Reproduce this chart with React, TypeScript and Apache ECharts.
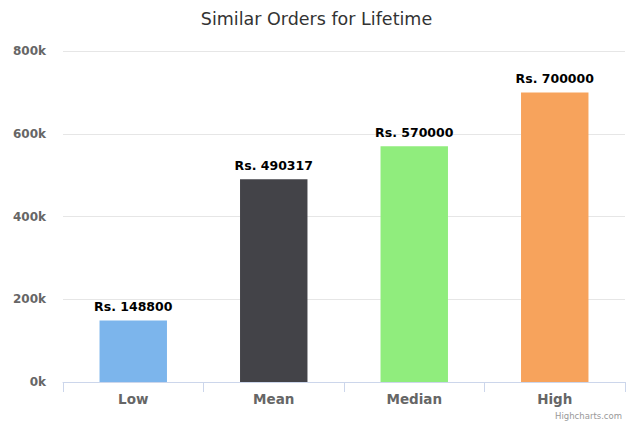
import React, { useEffect, useRef } from "react";
import * as echarts from "echarts";

const categories = ["Low", "Mean", "Median", "High"];
const values = [148800, 490317, 570000, 700000];
const colors = ["#7cb5ec", "#434348", "#90ed7d", "#f7a35c"];
const yTicks = [0, 200000, 400000, 600000, 800000];

export default function App() {
  const ref = useRef<HTMLDivElement>(null);
  useEffect(() => {
    const chart = echarts.init(ref.current!, null, { renderer: "svg" });
    const font = "'DejaVu Sans', Helvetica, Arial, sans-serif";
    chart.setOption({
      animation: false,
      textStyle: { fontFamily: font },
      title: {
        text: "Similar Orders for Lifetime",
        left: "center",
        top: 5,
        textStyle: { fontSize: 17.5, fontWeight: "normal", color: "#333333", fontFamily: font },
      },
      graphic: [
        {
          type: "text",
          right: 11,
          bottom: 5,
          style: { text: "Highcharts.com", fontSize: 8.5, fill: "#999999", fontFamily: font },
        },
      ],
      grid: { left: 63, right: 8, top: 51, bottom: 43, containLabel: false },
      xAxis: {
        type: "category",
        data: categories,
        axisLine: { lineStyle: { color: "#ccd6eb" } },
        axisTick: { show: true, length: 10, lineStyle: { color: "#ccd6eb" } },
        axisLabel: { color: "#666666", fontSize: 13.5, fontWeight: "bold", margin: 10, fontFamily: font },
      },
      yAxis: {
        type: "value",
        min: yTicks[0],
        max: yTicks[yTicks.length - 1],
        interval: 200000,
        axisLine: { show: false },
        axisTick: { show: false },
        splitLine: { lineStyle: { color: "#e6e6e6" } },
        axisLabel: {
          color: "#666666",
          fontSize: 12,
          fontWeight: "bold",
          margin: 17,
          fontFamily: font,
          formatter: (v: number) => v / 1000 + "k",
        },
      },
      series: [
        {
          type: "bar",
          data: values.map((v, i) => ({ value: v, itemStyle: { color: colors[i] } })),
          barWidth: "48%",
          label: {
            show: true,
            position: "top",
            distance: 7,
            color: "#000000",
            fontSize: 12.5,
            fontWeight: "bold",
            fontFamily: font,
            formatter: (p: any) => "Rs. " + p.value,
          },
        },
      ],
    });
    return () => chart.dispose();
  }, []);
  return <div ref={ref} style={{ width: 633, height: 425, position: "absolute", left: 0, top: 0 }} />;
}
